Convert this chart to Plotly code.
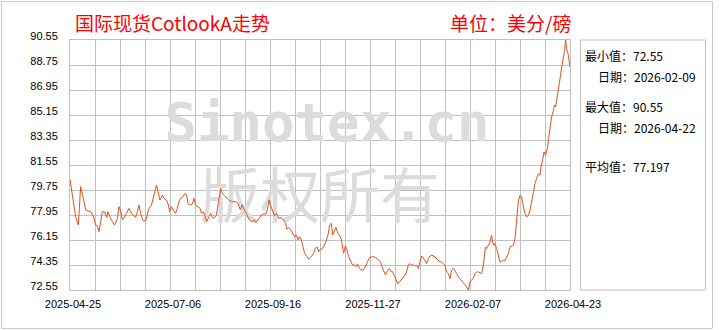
import plotly.graph_objects as go

# ---------------- data ----------------
t_idx = [0, 0.7, 1.7, 2.8, 4.2, 5.3, 6.5, 7.8, 9.0, 10.3, 11.7, 12.8, 13.7, 14.5, 15.3, 16.2, 17.3, 18.3, 19.0, 20.0,
         21.2, 22.3, 23.7, 24.5, 25.3, 26.2, 27.3, 28.3, 29.5, 30.7, 31.7, 32.8, 33.7, 34.5, 35.3, 36.5, 37.8, 38.7, 39.5,
         40.7, 41.7, 42.8, 43.3, 44.0, 45.0, 46.2, 47.0, 48.2, 49.2, 49.8, 50.7, 51.7, 52.8, 53.7, 54.5, 55.3, 56.5, 57.5,
         58.3, 59.0, 60.0, 61.2, 62.0, 62.8, 64.0, 65.0, 65.7, 66.7, 67.5, 68.3, 69.5, 70.3, 71.2, 72.0, 73.2, 74.0, 74.8,
         75.3, 76.2, 77.3, 78.7, 79.8, 81.2, 82.8,
         84.0, 85.2, 86.0, 86.8, 87.7, 88.5, 89.7, 91.0, 92.2, 93.0, 94.3, 95.7, 96.8, 98.0, 98.8, 99.5, 100.2, 101.3,
         102.3, 103.3, 104.3, 105.5, 106.5, 107.7, 108.5, 109.3, 110.2, 111.3, 112.3, 113.2, 114.0, 114.8, 115.7, 116.5,
         117.3, 118.5, 119.3, 120.7, 121.8, 122.7, 123.5, 124.3, 125.2, 126.3, 127.3, 128.2, 129.0, 129.8, 130.7, 131.3,
         132.2, 133.0, 134.0, 134.8, 135.7, 136.3, 136.8, 137.7, 138.5, 139.3, 140.5, 141.3, 142.2, 143.0, 143.8, 144.7,
         145.5, 146.5, 147.7, 148.8, 149.8, 151.3, 152.7, 154.0, 155.2, 156.0, 156.8, 157.7, 158.5, 159.7, 160.5, 161.3,
         162.3, 163.2, 163.8, 164.7, 165.5, 166.5,
         167.5, 168.3, 169.2, 170.0, 170.8, 171.7, 172.5, 173.3, 174.2, 175.0, 175.8, 176.7, 177.5, 178.3, 179.2, 180.0,
         180.8, 182.0, 183.0, 184.2, 185.0, 185.8, 186.7, 187.5, 188.3, 189.2, 190.0, 190.8, 191.7, 192.5, 193.3, 194.2,
         195.0, 195.8, 196.7, 197.5, 198.3, 199.2, 200.0, 200.8, 201.7, 202.5, 203.3, 204.2, 205.0, 205.8, 206.7, 207.2,
         207.7, 208.3, 209.2, 210.0, 210.8, 211.3, 212.0, 212.5, 213.3, 214.2, 215.0, 215.8, 216.7, 217.5, 218.3, 219.2,
         220.0, 220.8, 221.7, 222.5, 223.0, 223.7, 224.2, 225.0, 225.8, 226.7, 227.5, 228.3, 229.2, 230.0, 230.8, 231.7,
         232.5, 233.3, 234.2, 235.0, 235.5, 236.3, 237.0, 237.8, 238.7, 239.3, 240.0, 240.8, 241.7, 242.2, 242.8, 243.7,
         244.5, 245.3, 246.0, 246.7, 247.3, 247.8, 248.3, 249.0, 249.5, 250.0]

price = [80.52, 79.75, 78.67, 77.83, 77.23, 79.99, 79.27, 78.31, 78.24, 78.19, 77.83, 77.23, 77.16, 76.75, 77.47, 78.19,
         78.19, 77.78, 78.19, 77.78, 77.47, 77.23, 77.71, 78.55, 78.26, 77.59, 77.83, 78.12, 78.43, 78.07, 77.95, 77.78,
         78.19, 78.67, 78.07, 77.54, 77.54, 77.95, 78.43, 78.67, 79.27, 79.87, 80.11, 79.63, 79.03, 79.39, 79.15, 79.03,
         78.67, 78.19, 78.55, 78.31, 78.07, 78.43, 78.91, 79.15, 79.27, 79.51, 79.39, 78.79, 78.67, 78.74, 79.15, 78.67,
         78.55, 78.43, 78.07, 78.19, 77.88, 77.47, 77.83, 78.07, 77.78, 77.71, 77.95, 78.55, 79.39, 79.87, 79.51, 79.32,
         79.15, 78.98, 78.91, 78.91,
         78.79, 78.31, 78.67, 78.43, 78.07, 77.83, 77.59, 77.47, 77.59, 77.40, 77.64, 77.95, 78.02, 78.02, 78.43, 79.03,
         78.67, 78.19, 77.88, 78.07, 77.71, 77.78, 77.59, 77.40, 76.92, 77.06, 76.92, 76.63, 76.39, 76.51, 76.15, 76.39,
         76.15, 75.67, 75.19, 74.95, 74.76, 74.95, 75.19, 75.55, 75.67, 75.31, 75.48, 75.55, 75.79, 76.15, 76.51, 77.23,
         77.35, 76.51, 76.87, 77.06, 76.63, 76.51, 76.15, 75.67, 75.19, 75.72, 75.43, 74.95, 74.52, 74.35, 74.35, 74.23,
         74.42, 74.11, 73.99, 73.99, 74.23, 74.59, 74.90, 74.95, 74.90, 74.76, 74.59, 74.23, 73.87, 73.63, 73.87, 74.11,
         73.87, 73.87, 73.51, 73.27, 72.98, 73.15, 73.27, 73.51,
         73.61, 73.85, 74.37, 74.45, 74.33, 74.37, 74.28, 74.33, 74.09, 74.57, 75.00, 74.85, 74.66, 74.45, 74.81, 75.00,
         75.05, 75.00, 74.85, 74.69, 74.57, 74.57, 74.45, 74.33, 73.85, 73.73, 73.37, 73.97, 74.13, 73.97, 73.73, 73.49,
         73.37, 73.25, 73.13, 72.94, 72.77, 72.55, 73.13, 73.25, 73.42, 73.73, 73.85, 73.85, 73.80, 73.73, 74.33, 74.93,
         75.65, 75.53, 75.77, 76.01, 76.49, 76.01, 75.77, 75.89, 75.53, 74.93, 74.57, 74.61, 74.69, 74.69, 74.93, 75.17,
         75.65, 75.72, 75.77, 76.25, 76.97, 78.17, 79.01, 79.37, 79.25, 78.53, 78.05, 77.81, 77.93, 78.29, 78.89, 79.85,
         80.21, 80.57, 80.93, 80.81, 81.41, 81.89, 82.49, 82.25, 82.73, 83.45, 84.17, 85.01, 85.49, 85.85, 85.73, 86.45,
         87.17, 88.01, 88.73, 89.21, 89.81, 90.55, 89.93, 89.57, 88.85, 88.61]

x_tick_labels = ["2025-04-25", "2025-07-06", "2025-09-16", "2025-11-27", "2026-02-07", "2026-04-23"]
y_tick_values = [72.55, 74.35, 76.15, 77.95, 79.75, 81.55, 83.35, 85.15, 86.95, 88.75, 90.55]

title_text = "国际现货CotlookA走势"
unit_text = "单位：美分/磅"
min_val, min_date = "72.55", "2026-02-09"
max_val, max_date = "90.55", "2026-04-22"
avg_val = "77.197"

# ---------------- layout geometry ----------------
W, H = 720, 330
L, T, R, B = 70, 40, 150, 40
PW, PH = W - L - R, H - T - B
X_MAX = 250
X_GRID_STEPS = 20
Y_MIN, Y_MAX = y_tick_values[0], y_tick_values[-1]

def px(x):
    return (x - L) / PW

def py(y):
    return (H - B - y) / PH

def dx(x):
    return (x - L) / PW * X_MAX

def dy(y):
    return Y_MAX - (y - T) / PH * (Y_MAX - Y_MIN)

GRID = "#c0c0c0"
CJK = "Noto Sans CJK SC"
TICKFONT = dict(family="Liberation Sans, " + CJK, size=11, color="#000")

fig = go.Figure()

# watermark (under the line)
fig.add_trace(go.Scatter(x=[dx(327)], y=[dy(127)], mode="text", text=["Sinotex.cn"],
                         textfont=dict(family="DejaVu Sans Mono", size=54, color="#dcdcdc", weight="bold"),
                         hoverinfo="skip", showlegend=False, cliponaxis=False))
fig.add_trace(go.Scatter(x=[dx(320)], y=[dy(203)], mode="text", text=["版权所有"],
                         textfont=dict(family=CJK, size=60, color="#dcdcdc"),
                         hoverinfo="skip", showlegend=False, cliponaxis=False))

fig.add_trace(go.Scatter(x=t_idx, y=price, mode="lines",
                         line=dict(color="#de5419", width=1),
                         hoverinfo="skip", showlegend=False))

# x ticks: a grid line every 1/20 of the span, a label on every 4th
step = X_MAX / X_GRID_STEPS
every = X_GRID_STEPS // (len(x_tick_labels) - 1)
x_tickvals = [i * step for i in range(X_GRID_STEPS + 1)]
x_ticktext = [x_tick_labels[i // every] if i % every == 0 else "" for i in range(X_GRID_STEPS + 1)]

fig.update_xaxes(range=[0, X_MAX], tickmode="array", tickvals=x_tickvals, ticktext=x_ticktext,
                 showgrid=True, gridcolor=GRID, gridwidth=1,
                 showline=True, linecolor=GRID, linewidth=1, mirror=True, zeroline=False,
                 ticks="", ticklabelshift=3, ticklabelstandoff=4, tickfont=TICKFONT)
fig.update_yaxes(range=[Y_MIN, Y_MAX], tickmode="array", tickvals=y_tick_values,
                 ticktext=[f"{v:.2f}" for v in y_tick_values],
                 showgrid=True, gridcolor=GRID, gridwidth=1,
                 showline=True, linecolor=GRID, linewidth=1, mirror=True, zeroline=False,
                 ticks="", ticklabelshift=-4, ticklabelstandoff=9, tickfont=TICKFONT)

shapes = [
    dict(type="rect", xref="paper", yref="paper", x0=px(1.5), x1=px(712.5), y0=py(328.5), y1=py(1.5),
         line=dict(color="#c8c8c8", width=1), fillcolor="rgba(0,0,0,0)", layer="above"),
    dict(type="rect", xref="paper", yref="paper", x0=px(580.5), x1=px(705.5), y0=py(290), y1=py(40),
         line=dict(color=GRID, width=1), fillcolor="rgba(0,0,0,0)", layer="above"),
]

annotations = [
    dict(text=title_text, x=px(73), y=py(23), font=dict(family=CJK, size=19, color="#ff0000")),
    dict(text=unit_text, x=px(448), y=py(23), font=dict(family=CJK, size=19, color="#ff0000")),
    dict(text=f"最小值：{min_val}", x=px(583), y=py(56)),
    dict(text=f"日期：{min_date}", x=px(596), y=py(76)),
    dict(text=f"最大值：{max_val}", x=px(583), y=py(106)),
    dict(text=f"日期：{max_date}", x=px(596), y=py(127)),
    dict(text=f"平均值：{avg_val}", x=px(583), y=py(166)),
]
for a in annotations:
    a.update(xref="paper", yref="paper", xanchor="left", yanchor="middle", showarrow=False)
    a.setdefault("font", dict(family=CJK, size=12, color="#000"))

fig.update_layout(width=W, height=H, margin=dict(l=L, r=R, t=T, b=B, pad=0),
                  paper_bgcolor="white", plot_bgcolor="white",
                  shapes=shapes, annotations=annotations, showlegend=False)

fig.write_html("out.html")
